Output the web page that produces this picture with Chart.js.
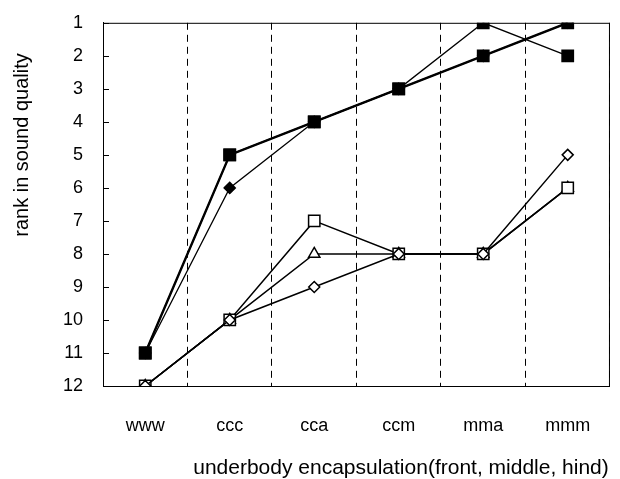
<!DOCTYPE html>
<html>
<head>
<meta charset="utf-8">
<script src="https://cdn.jsdelivr.net/npm/chart.js@4/dist/chart.umd.min.js"></script>
<style>
  html, body { margin: 0; padding: 0; background: #fff; }
  #wrap { width: 620px; height: 479px; }
</style>
</head>
<body>
<div id="wrap"><canvas id="myChart" width="620" height="479"></canvas></div>
<script>
const categories = ["www", "ccc", "cca", "ccm", "mma", "mmm"];

// filled markers
const squareA = [11, 5, 4, 3, 2, 1];
const squareB = [11, 5, 4, 3, 1, 2];
const diamondFilled = [11, 6, 4, 3, 2, 1];

// open markers
const openSquare = [12, 10, 7, 8, 8, 6];
const openTriangle = [12, 10, 8, 8, 8, 6];
const openDiamond = [12, 10, 9, 8, 8, 5];

const rankMin = 1;
const rankMax = 12;

const yTitle = "rank in sound quality";
const xTitle = "underbody encapsulation(front, middle, hind)";

const fontFamily = "'Liberation Sans', Arial, sans-serif";

function series(data, style, radius, fill, width) {
  return {
    data: data,
    borderColor: "#000",
    borderWidth: width,
    pointStyle: style,
    pointRadius: radius,
    pointHoverRadius: radius,
    pointBackgroundColor: fill,
    pointBorderColor: "#000",
    pointBorderWidth: 1.5,
    tension: 0,
    fill: false
  };
}

// frame, inner ticks and axis titles
const extras = {
  id: "extras",
  afterDraw(chart) {
    const ctx = chart.ctx;
    const area = chart.chartArea;
    const y = chart.scales.y;
    ctx.save();
    ctx.strokeStyle = "#000";
    ctx.lineWidth = 1;
    ctx.strokeRect(area.left + 0.5, area.top + 0.5, area.right - area.left - 1, area.bottom - area.top);
    for (let v = rankMin; v <= rankMax; v++) {
      const py = Math.round(y.getPixelForValue(v)) + 0.5;
      ctx.beginPath();
      ctx.moveTo(area.left, py);
      ctx.lineTo(area.left + 6, py);
      ctx.stroke();
    }
    ctx.fillStyle = "#000";
    ctx.textAlign = "center";
    ctx.textBaseline = "middle";
    ctx.font = "21px " + fontFamily;
    ctx.fillText(xTitle, 401, 468);
    ctx.font = "20px " + fontFamily;
    ctx.translate(22, 145);
    ctx.rotate(-Math.PI / 2);
    ctx.fillText(yTitle, 0, 0);
    ctx.restore();
  }
};

new Chart("myChart", {
  type: "line",
  data: {
    labels: categories,
    datasets: [
      series(openDiamond, "rectRot", 5.5, "#fff", 1.5),
      series(openSquare, "rect", 8, "#fff", 1.5),
      series(openTriangle, "triangle", 6.5, "#fff", 1.5),
      series(squareA, "rect", 8, "#000", 2.4),
      series(squareB, "rect", 8, "#000", 1.3),
      series(diamondFilled, "rectRot", 5.5, "#000", 1.3)
    ]
  },
  plugins: [extras],
  options: {
    responsive: false,
    animation: false,
    layout: { padding: { left: 0, top: 20, right: 8, bottom: 0 } },
    plugins: {
      legend: { display: false },
      tooltip: { enabled: false },
      title: { display: false }
    },
    scales: {
      x: {
        type: "category",
        offset: true,
        afterFit(s) { s.height = 93; },
        grid: {
          offset: true,
          color: "#000",
          lineWidth: 1,
          drawTicks: false
        },
        border: { display: true, color: "#000", width: 1, dash: [7, 5] },
        ticks: {
          color: "#000",
          padding: 29,
          font: { family: fontFamily, size: 18 }
        }
      },
      y: {
        reverse: true,
        min: rankMin,
        max: rankMax,
        afterFit(s) { s.width = 103; },
        grid: { display: false },
        border: { display: true, color: "#000", width: 1 },
        ticks: {
          stepSize: 1,
          color: "#000",
          padding: 12,
          font: { family: fontFamily, size: 18 }
        }
      }
    }
  }
});
</script>
</body>
</html>
